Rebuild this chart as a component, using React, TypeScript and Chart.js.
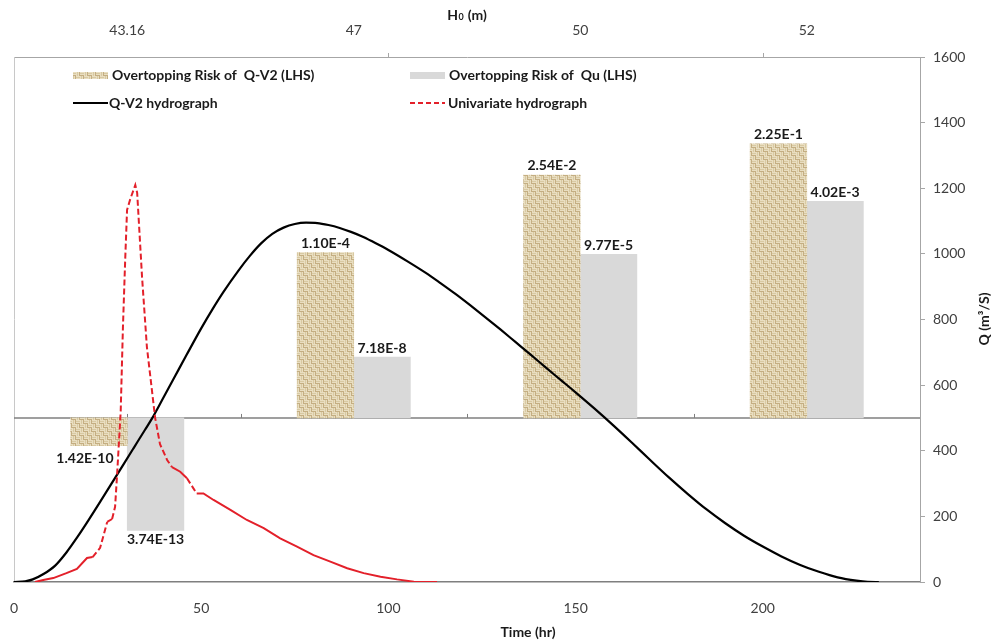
import React, { useEffect, useRef } from 'react';
import { Chart, registerables } from 'chart.js';

Chart.register(...registerables);

// ---- data ----
const headLabels = ['43.16', '47', '50', '52'];
const riskQV2 = [1.42e-10, 1.1e-4, 2.54e-2, 2.25e-1];
const riskQu = [3.74e-13, 7.18e-8, 9.77e-5, 4.02e-3];
const riskBase = 1e-9;
const riskMin = 1e-14;
const riskMax = 1e2;

const qv2Time = [0, 3, 5, 8, 11, 14, 17, 20, 23, 26, 29, 32, 35, 37, 40, 43, 46, 50, 53, 56, 60, 63, 66, 69, 72, 75, 78, 81, 84, 87, 90, 93, 96, 100, 105, 110, 114, 118, 122, 126, 130, 134, 138, 142, 146, 150, 155, 160, 165, 170, 175, 180, 185, 190, 195, 200, 205, 210, 215, 220, 225, 228, 231];
const qv2Flow = [0, 2, 8, 25, 50, 90, 138, 190, 244, 299, 354, 409, 464, 501, 564, 627, 690, 773, 831, 885, 950, 994, 1032, 1061, 1080, 1091, 1095, 1094, 1088, 1079, 1067, 1053, 1036, 1012, 978, 942, 910, 877, 842, 806, 769, 731, 693, 654, 616, 578, 529, 478, 425, 371, 318, 268, 221, 179, 141, 108, 78, 52, 31, 14, 4, 0.5, 0];

const uniTime = [5.6, 7.8, 10.5, 14, 16.8, 19.5, 21, 23, 24.9, 26.2, 27, 27.5, 28.5, 29.1, 29.7, 30.2, 31, 32.4, 32.9, 34.2, 35.5, 37.7, 39, 40.9, 42.2, 44.4, 46.2, 48.8, 50.6, 53.3, 57.8, 62.2, 66.7, 71.1, 75.6, 80, 84.5, 89, 93.4, 97.9, 102.3, 106.8, 113];
const uniFlow = [0, 6, 12, 27, 40, 73, 76, 104, 183, 192, 229, 320, 520, 777, 982, 1134, 1165, 1210, 1186, 930, 716, 500, 420, 372, 350, 336, 316, 270, 270, 250, 220, 189, 164, 133, 108, 82, 62, 42, 27, 16, 8, 1, 0];

const timeMax = 242;
const timeStep = 50;
const flowMax = 1600;
const flowStep = 200;

const legendLabels = ['Overtopping Risk of  Q-V2 (LHS)', 'Overtopping Risk of  Qu (LHS)', 'Q-V2 hydrograph', 'Univariate hydrograph'];

const FONT = 'Lato, "Open Sans", sans-serif';
const TICK_COLOR = '#404040';
const GREY_BAR = '#d9d9d9';
const RED = '#e3202a';

function fmtRisk(v: number): string {
  return v.toExponential(2).replace('e', 'E').replace('+', '');
}

function makeBurlap(ctx: CanvasRenderingContext2D): CanvasPattern | string {
  const c = document.createElement('canvas');
  c.width = 8;
  c.height = 8;
  const g = c.getContext('2d');
  if (!g) return '#cdb98f';
  g.fillStyle = '#c4ae82';
  g.fillRect(0, 0, 8, 8);
  g.fillStyle = '#e9dec1';
  for (let i = 0; i < 2; i++) {
    g.fillRect(0, i * 2, 4, 1);
    g.fillRect(4, 4 + i * 2, 4, 1);
    g.fillRect(4 + i * 2, 0, 1, 4);
    g.fillRect(i * 2, 4, 1, 4);
  }
  g.fillStyle = '#d8c9a2';
  g.fillRect(0, 1, 4, 1);
  g.fillRect(4, 5, 4, 1);
  g.fillRect(5, 0, 1, 4);
  g.fillRect(1, 4, 1, 4);
  return ctx.createPattern(c, 'repeat') || '#cdb98f';
}

// dataset indices (lines first so the bar group uses the second index-axis slot)
const IDX_QV2_BAR = 2;
const IDX_QU_BAR = 3;

export default function App() {
  const ref = useRef<HTMLCanvasElement>(null);

  useEffect(() => {
    const canvas = ref.current;
    if (!canvas) return;
    const c2d = canvas.getContext('2d');
    if (!c2d) return;
    const burlap = makeBurlap(c2d);

    const overlay = {
      id: 'overlay',
      beforeDatasetsDraw(chart: any) {
        const { ctx, chartArea: a, scales } = chart;
        const yb = scales.yLog.getPixelForValue(riskBase);
        ctx.save();
        ctx.strokeStyle = '#c8c8c8';
        ctx.lineWidth = 1;
        ctx.beginPath();
        ctx.moveTo(a.left + 0.5, a.top);
        ctx.lineTo(a.left + 0.5, a.bottom);
        ctx.stroke();
        ctx.strokeStyle = '#7f7f7f';
        ctx.lineWidth = 1.5;
        ctx.beginPath();
        ctx.moveTo(a.left, yb);
        ctx.lineTo(a.right, yb);
        ctx.stroke();
        const w = (a.right - a.left) / headLabels.length;
        ctx.lineWidth = 1;
        for (let i = 1; i < headLabels.length * 2; i++) {
          const x = Math.round(a.left + (i * w) / 2) + 0.5;
          ctx.beginPath();
          ctx.moveTo(x, yb);
          ctx.lineTo(x, yb - 4);
          ctx.stroke();
        }
        ctx.strokeStyle = '#a6a6a6';
        for (const t of [100, 200]) {
          const x = Math.round(scales.x.getPixelForValue(t)) + 0.5;
          ctx.beginPath();
          ctx.moveTo(x, a.top);
          ctx.lineTo(x, a.top - 4);
          ctx.stroke();
        }
        ctx.restore();
      },
      afterDatasetsDraw(chart: any) {
        const { ctx } = chart;
        ctx.save();
        ctx.font = `bold 14px ${FONT}`;
        ctx.fillStyle = '#1a1a1a';
        ctx.textAlign = 'center';
        ctx.textBaseline = 'middle';
        const sets: Array<[number[], number]> = [[riskQV2, IDX_QV2_BAR], [riskQu, IDX_QU_BAR]];
        sets.forEach(([vals, di], k) => {
          const meta = chart.getDatasetMeta(di);
          meta.data.forEach((bar: any, i: number) => {
            const v = vals[i];
            const txt = fmtRisk(v);
            const top = Math.min(bar.y, bar.base);
            const bottom = Math.max(bar.y, bar.base);
            if (v >= riskBase) {
              ctx.fillText(txt, bar.x, top - 9);
            } else {
              ctx.fillText(txt, bar.x - (k === 0 ? 14 : 0), bottom + (k === 0 ? 13 : 9));
            }
          });
        });
        ctx.restore();
      },
      afterDraw(chart: any) {
        const { ctx, chartArea: a } = chart;
        ctx.save();
        // legend
        const r1 = a.top + 18;
        const r2 = a.top + 46;
        const c1 = a.left + 59;
        const c2 = a.left + 396;
        const sw = 35;
        ctx.fillStyle = burlap;
        ctx.fillRect(c1, r1 - 3, sw, 7);
        ctx.fillStyle = GREY_BAR;
        ctx.fillRect(c2, r1 - 3, sw, 7);
        ctx.strokeStyle = '#000';
        ctx.lineWidth = 2;
        ctx.beginPath();
        ctx.moveTo(c1, r2);
        ctx.lineTo(c1 + sw, r2);
        ctx.stroke();
        ctx.strokeStyle = RED;
        ctx.setLineDash([5, 3]);
        ctx.beginPath();
        ctx.moveTo(c2, r2);
        ctx.lineTo(c2 + sw, r2);
        ctx.stroke();
        ctx.setLineDash([]);
        ctx.font = `bold 14px ${FONT}`;
        ctx.fillStyle = '#1a1a1a';
        ctx.textAlign = 'left';
        ctx.textBaseline = 'middle';
        ctx.fillText(legendLabels[0], c1 + sw + 4, r1);
        ctx.fillText(legendLabels[1], c2 + sw + 4, r1);
        ctx.fillText(legendLabels[2], c1 + sw + 1, r2);
        ctx.fillText(legendLabels[3], c2 + sw + 3, r2);

        // axis titles
        ctx.fillStyle = '#1a1a1a';
        ctx.font = `bold 14px ${FONT}`;
        ctx.textAlign = 'center';
        ctx.fillText('Time (hr)', 528, 632);
        // H0 (m)
        const hw = ctx.measureText('H').width;
        const mw = ctx.measureText(' (m)').width;
        ctx.font = `bold 9px ${FONT}`;
        const zw = ctx.measureText('0').width;
        const total = hw + zw + mw + 1;
        const hx = (a.left + a.right) / 2 - total / 2;
        const hy = 15;
        ctx.textAlign = 'left';
        ctx.font = `bold 14px ${FONT}`;
        ctx.fillText('H', hx, hy);
        ctx.font = `bold 9px ${FONT}`;
        ctx.fillText('0', hx + hw + 0.5, hy + 2);
        ctx.font = `bold 14px ${FONT}`;
        ctx.fillText(' (m)', hx + hw + zw + 1, hy);
        // Q title
        ctx.translate(984, 319);
        ctx.rotate(-Math.PI / 2);
        ctx.textAlign = 'center';
        ctx.fillText('Q (m\u00b3/S)', 0, 0);
        ctx.restore();
      },
    };

    const chart = new Chart(canvas, {
      type: 'bar',
      data: {
        labels: headLabels,
        datasets: [
          {
            type: 'line',
            label: legendLabels[2],
            data: qv2Time.map((t, i) => ({ x: t, y: qv2Flow[i] })) as any,
            borderColor: '#000',
            borderWidth: 2.2,
            pointRadius: 0,
            cubicInterpolationMode: 'monotone',
            fill: false,
            xAxisID: 'x',
            yAxisID: 'y',
            order: 1,
          },
          {
            type: 'line',
            label: legendLabels[3],
            data: uniTime.map((t, i) => ({ x: t, y: uniFlow[i] })) as any,
            borderColor: RED,
            borderWidth: 2,
            pointRadius: 0,
            tension: 0,
            fill: false,
            xAxisID: 'x',
            yAxisID: 'y',
            order: 0,
            segment: {
              borderDash: (sc: any) => {
                const dx = Math.abs(sc.p1.x - sc.p0.x);
                const dy = Math.abs(sc.p1.y - sc.p0.y);
                return dy > 1.2 * dx ? [6, 3] : undefined;
              },
            },
          },
          {
            type: 'bar',
            label: legendLabels[0],
            data: riskQV2.map((v) => [riskBase, v]) as any,
            backgroundColor: burlap as any,
            xAxisID: 'xTop',
            yAxisID: 'yLog',
            categoryPercentage: 1,
            barPercentage: 1,
            order: 2,
          },
          {
            type: 'bar',
            label: legendLabels[1],
            data: riskQu.map((v) => [riskBase, v]) as any,
            backgroundColor: GREY_BAR,
            xAxisID: 'xTop',
            yAxisID: 'yLog',
            categoryPercentage: 1,
            barPercentage: 1,
            order: 2,
          },
        ],
      },
      options: {
        responsive: false,
        animation: false,
        events: [],
        layout: { padding: { left: 14, right: 0, top: 0, bottom: 0 } },
        plugins: { legend: { display: false }, tooltip: { enabled: false } },
        scales: {
          x: {
            type: 'linear',
            position: 'bottom',
            min: 0,
            max: timeMax,
            offset: false,
            grid: { display: false, drawTicks: false },
            border: { display: true, color: '#7f7f7f', width: 1.5 },
            ticks: {
              stepSize: timeStep,
              includeBounds: false,
              color: TICK_COLOR,
              font: { family: FONT, size: 14 },
              padding: 18,
              callback: (v: any) => String(v),
            },
            afterFit: (s: any) => {
              s.height = 60;
              s.paddingLeft = 0;
              s.paddingRight = 0;
            },
          },
          xTop: {
            type: 'category',
            position: 'top',
            offset: true,
            grid: { display: false, drawTicks: false, offset: true },
            border: { display: true, color: '#a6a6a6', width: 1 },
            ticks: { color: TICK_COLOR, font: { family: FONT, size: 14 }, padding: 18 },
            afterFit: (s: any) => {
              s.height = 57;
              s.paddingLeft = 0;
              s.paddingRight = 0;
            },
          },
          y: {
            type: 'linear',
            position: 'right',
            min: 0,
            max: flowMax,
            grid: { drawOnChartArea: false, drawTicks: true, tickLength: 5, color: '#a6a6a6' },
            border: { display: true, color: '#a6a6a6', width: 1 },
            ticks: {
              stepSize: flowStep,
              color: TICK_COLOR,
              font: { family: FONT, size: 14 },
              padding: 8,
              callback: (v: any) => String(v),
            },
            afterFit: (s: any) => {
              s.width = 71;
              s.paddingTop = 0;
              s.paddingBottom = 0;
            },
          },
          yLog: {
            type: 'logarithmic',
            position: 'left',
            display: false,
            min: riskMin,
            max: riskMax,
          },
        },
      } as any,
      plugins: [overlay],
    });

    return () => chart.destroy();
  }, []);

  return (
    <div style={{ position: 'absolute', left: 0, top: 0, width: 991, height: 642, background: '#fff' }}>
      <canvas ref={ref} width={991} height={642} style={{ display: 'block' }} />
    </div>
  );
}
